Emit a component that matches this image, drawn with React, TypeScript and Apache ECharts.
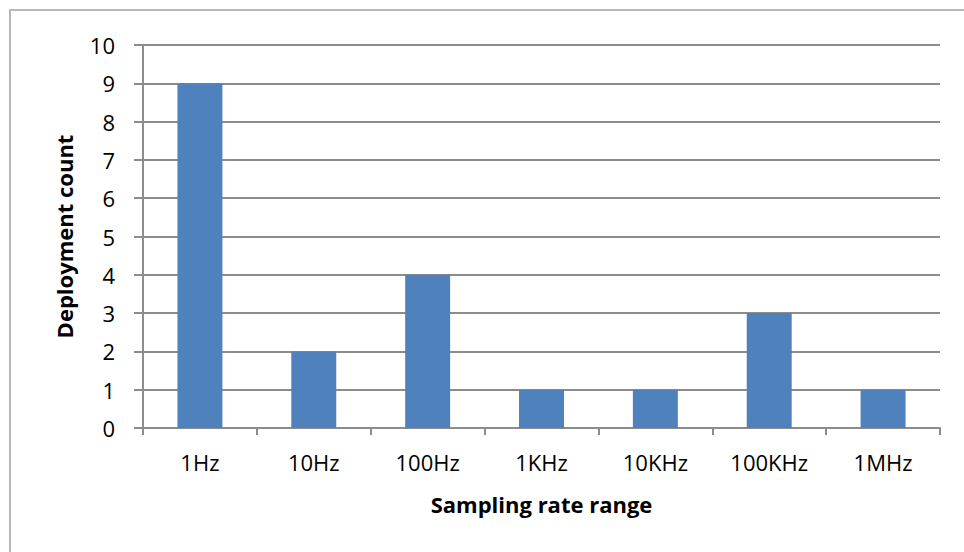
import React, { useEffect, useRef } from "react";
import * as echarts from "echarts";

const categories = ["1Hz", "10Hz", "100Hz", "1KHz", "10KHz", "100KHz", "1MHz"];
const deploymentCounts = [9, 2, 4, 1, 1, 3, 1];
const yTicks = { min: 0, max: 10, interval: 1 };

const FONT = "'Open Sans', Lato, sans-serif";

export default function App() {
  const ref = useRef<HTMLDivElement>(null);

  useEffect(() => {
    if (!ref.current) return;
    const chart = echarts.init(ref.current, undefined, { renderer: "svg" });
    chart.setOption({
      animation: false,
      backgroundColor: "#ffffff",
      graphic: [
        {
          type: "rect",
          shape: { x: 10, y: 10, width: 1000, height: 600 },
          style: { fill: "none", stroke: "#b8b8b8", lineWidth: 2 },
          silent: true,
        },
      ],
      grid: { left: 143, right: 24, top: 45, bottom: 124 },
      xAxis: {
        type: "category",
        data: categories,
        name: "Sampling rate range",
        nameLocation: "middle",
        nameGap: 65,
        nameTextStyle: { fontFamily: FONT, fontSize: 22, fontWeight: "bold", color: "#000" },
        axisLine: { lineStyle: { color: "#8c8c8c", width: 2 } },
        axisTick: { show: true, length: 7, alignWithLabel: false, lineStyle: { color: "#8c8c8c", width: 2 } },
        axisLabel: { fontFamily: FONT, fontSize: 22, color: "#000", margin: 23 },
        splitLine: { show: false },
      },
      yAxis: {
        type: "value",
        min: yTicks.min,
        max: yTicks.max,
        interval: yTicks.interval,
        name: "Deployment count",
        nameLocation: "middle",
        nameGap: 68,
        nameRotate: 90,
        nameTextStyle: { fontFamily: FONT, fontSize: 22, fontWeight: "bold", color: "#000" },
        axisLine: { show: true, lineStyle: { color: "#8c8c8c", width: 2 } },
        axisTick: { show: true, length: 9, lineStyle: { color: "#8c8c8c", width: 2 } },
        axisLabel: { fontFamily: FONT, fontSize: 22, color: "#000", margin: 28 },
        splitLine: { show: true, lineStyle: { color: "#8c8c8c", width: 2 } },
      },
      series: [
        {
          type: "bar",
          data: deploymentCounts,
          barWidth: "39.5%",
          itemStyle: { color: "#4f81bd" },
        },
      ],
    });
    return () => chart.dispose();
  }, []);

  return (
    <div
      ref={ref}
      style={{ position: "absolute", left: 0, top: 0, width: 964, height: 552 }}
    />
  );
}
